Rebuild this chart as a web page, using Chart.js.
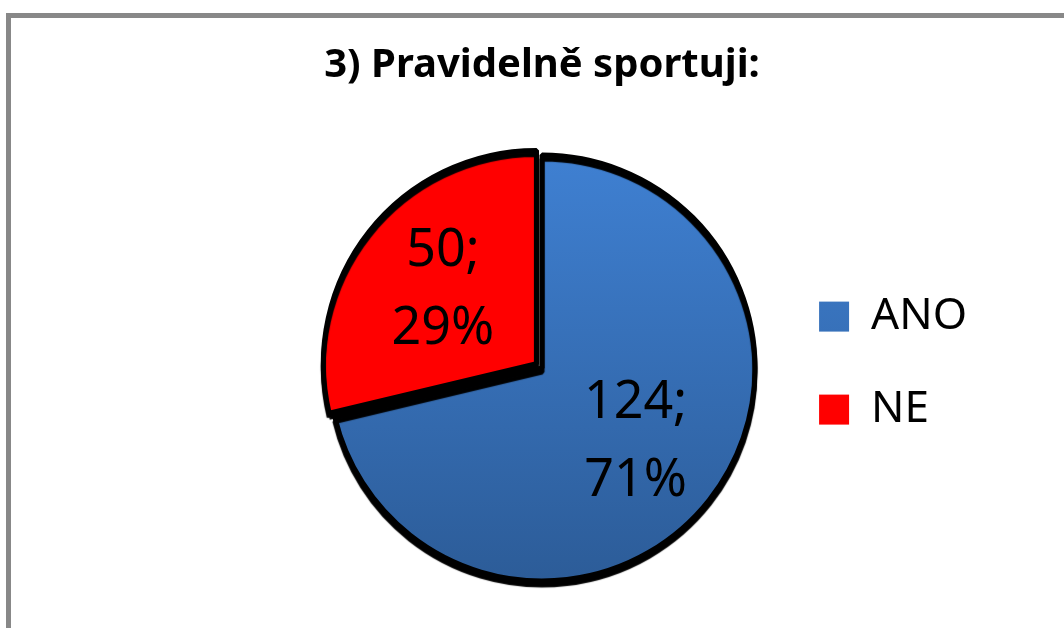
<!DOCTYPE html>
<html>
<head>
<meta charset="utf-8">
<script src="https://cdn.jsdelivr.net/npm/chart.js@4"></script>
<style>
    html, body { margin: 0; padding: 0; background: #fff; overflow: hidden; }
    .frame {
        position: absolute; left: 6px; top: 13px;
        width: 1200px; height: 800px;
        border: 5px solid #888;
        box-sizing: border-box;
    }
    .wrap { position: absolute; left: 0; top: 0; width: 1064px; height: 660px; }
</style>
</head>
<body>
<div class="frame"></div>
<div class="wrap"><canvas id="pieChart"></canvas></div>
<script>
const labels = ['ANO', 'NE'];
const counts = [124, 50];
const sliceColors = ['#3A78C6', '#FF0000'];
const sliceOffsets = [0, 28];

// ANO gets a top-to-bottom blue gradient, NE is flat red
const sliceFill = (context) => {
    if (context.dataIndex !== 0) return sliceColors[context.dataIndex];
    const chart = context.chart;
    const area = chart.chartArea;
    if (!area) return sliceColors[0];
    const cy = (area.top + area.bottom) / 2;
    const g = chart.ctx.createLinearGradient(0, cy - 214, 0, cy + 214);
    g.addColorStop(0, '#3F80D2');
    g.addColorStop(1, '#2C5C98');
    return g;
};

// dark drop shadow under the slices
const sliceShadow = {
    id: 'sliceShadow',
    beforeDatasetDraw(chart) {
        const ctx = chart.ctx;
        ctx.save();
        ctx.shadowColor = '#000';
        ctx.shadowBlur = 1;
        ctx.shadowOffsetX = 0;
        ctx.shadowOffsetY = 4;
    },
    afterDatasetDraw(chart) {
        chart.ctx.restore();
    }
};

// value; percent labels inside the slices
const sliceLabels = {
    id: 'sliceLabels',
    afterDatasetsDraw(chart) {
        const ctx = chart.ctx;
        const meta = chart.getDatasetMeta(0);
        const total = counts.reduce((a, b) => a + b, 0);
        ctx.save();
        ctx.font = '52px "Noto Sans"';
        ctx.fillStyle = '#000';
        ctx.textAlign = 'center';
        ctx.textBaseline = 'middle';
        meta.data.forEach((arc, i) => {
            const p = arc.getProps(['x', 'y', 'startAngle', 'endAngle', 'outerRadius'], true);
            const mid = (p.startAngle + p.endAngle) / 2;
            const shift = sliceOffsets[i] / 4;
            const r = p.outerRadius * 0.56 + shift;
            const x = p.x + Math.cos(mid) * r;
            const y = p.y + Math.sin(mid) * r;
            const pct = Math.round(counts[i] / total * 100);
            ctx.fillText(counts[i] + ';', x, y - 39);
            ctx.fillText(pct + '%', x, y + 39);
        });
        ctx.restore();
    }
};

const pieCtx = document.getElementById('pieChart').getContext('2d');
new Chart(pieCtx, {
    type: 'pie',
    data: {
        labels: labels,
        datasets: [{
            data: counts,
            backgroundColor: sliceFill,
            borderColor: '#000000',
            borderWidth: 5,
            offset: sliceOffsets,
            radius: 213
        }]
    },
    plugins: [sliceShadow, sliceLabels],
    options: {
        responsive: true,
        maintainAspectRatio: false,
        animation: false,
        events: [],
        layout: { padding: { left: 314, right: 87, bottom: 14 } },
        plugins: {
            title: {
                display: true,
                fullSize: false,
                text: '3) Pravidelně sportuji:',
                color: '#000',
                font: { family: '"Noto Sans"', size: 40, weight: 'bold' },
                padding: { top: 42, bottom: 0 }
            },
            legend: {
                position: 'right',
                title: {
                    display: true,
                    text: ' ',
                    font: { size: 1 },
                    padding: { top: 79, bottom: 0 }
                },
                labels: {
                    color: '#000',
                    font: { family: '"Noto Sans"', size: 44 },
                    boxWidth: 30,
                    boxHeight: 30,
                    padding: 49,
                    generateLabels: (chart) =>
                        Chart.controllers.pie.overrides.plugins.legend.labels
                            .generateLabels(chart)
                            .map((item) => ({ ...item, lineWidth: 0 }))
                }
            },
            tooltip: { enabled: false }
        }
    }
});
</script>
</body>
</html>
